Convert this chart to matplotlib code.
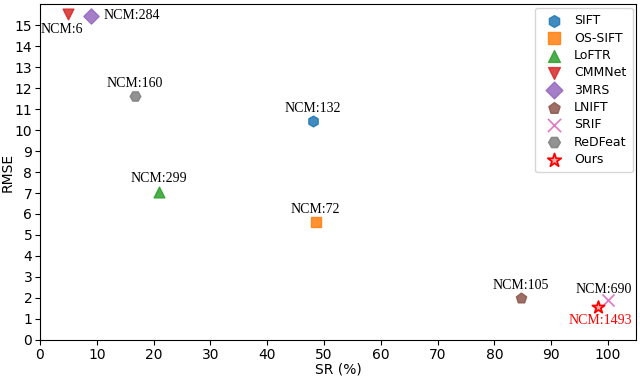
import matplotlib
matplotlib.use("Agg")
import matplotlib.pyplot as plt

methods = ["SIFT", "OS-SIFT", "LoFTR", "CMMNet", "3MRS", "LNIFT", "SRIF", "ReDFeat", "Ours"]
sr = [48.0, 48.5, 21.0, 5.0, 9.0, 84.7, 100.0, 16.7, 98.2]
rmse = [10.42, 5.6, 7.06, 15.52, 15.45, 1.98, 1.88, 11.62, 1.57]
ncm = [132, 72, 299, 6, 284, 105, 690, 160, 1493]

markers = ["h", "s", "^", "v", "D", "p", "x", "H", "*"]
colors = ["tab:blue", "tab:orange", "tab:green", "tab:red", "tab:purple",
          "tab:brown", "tab:pink", "tab:gray", "red"]
# text offsets in points (dx, dy) and alignment
offsets = [(0, 4.5, "center", "bottom"), (0, 4.5, "center", "bottom"),
           (0, 4.5, "center", "bottom"), (-4.5, -6.5, "center", "top"),
           (9, 0, "left", "center"), (0, 4.5, "center", "bottom"),
           (-3, 3.5, "center", "bottom"), (0, 4.5, "center", "bottom"),
           (2, -5, "center", "top")]

fig = plt.figure(figsize=(6.4, 3.76), dpi=100)
ax = fig.add_axes([0.0625, 0.096, 0.932, 0.893])

for m, x, y, n, mk, c, off in zip(methods, sr, rmse, ncm, markers, colors, offsets):
    if mk == "x":
        ax.scatter(x, y, marker=mk, s=75, color=c, linewidths=1.2, label=m)
    elif mk == "*":
        ax.scatter(x, y, marker=mk, s=85, facecolor="#ffb0b0", edgecolor=c,
                   linewidths=1.3, label=m)
    else:
        ax.scatter(x, y, marker=mk, s=60, color=c, edgecolor=c, alpha=0.85,
                   linewidths=1.0, label=m)
    dx, dy, ha, va = off
    ax.annotate(f"NCM:{n}", (x, y), xytext=(dx, dy), textcoords="offset points",
                ha=ha, va=va, fontsize=10, family="Liberation Serif",
                color="red" if m == "Ours" else "black")

ax.set_xlim(0, 105)
ax.set_ylim(0, 16)
ax.set_xticks(range(0, 101, 10))
ax.set_yticks(range(0, 16))
ax.tick_params(labelsize=10, length=3.5, pad=2)
ax.set_xlabel("SR (%)", fontsize=10, labelpad=1)
ax.set_ylabel("RMSE", fontsize=10, labelpad=0)
ax.legend(loc="upper right", fontsize=9, markerscale=1.1, labelspacing=0.35,
          handletextpad=0.6, borderpad=0.5, borderaxespad=0.3)

plt.savefig("out.png", dpi=100)
